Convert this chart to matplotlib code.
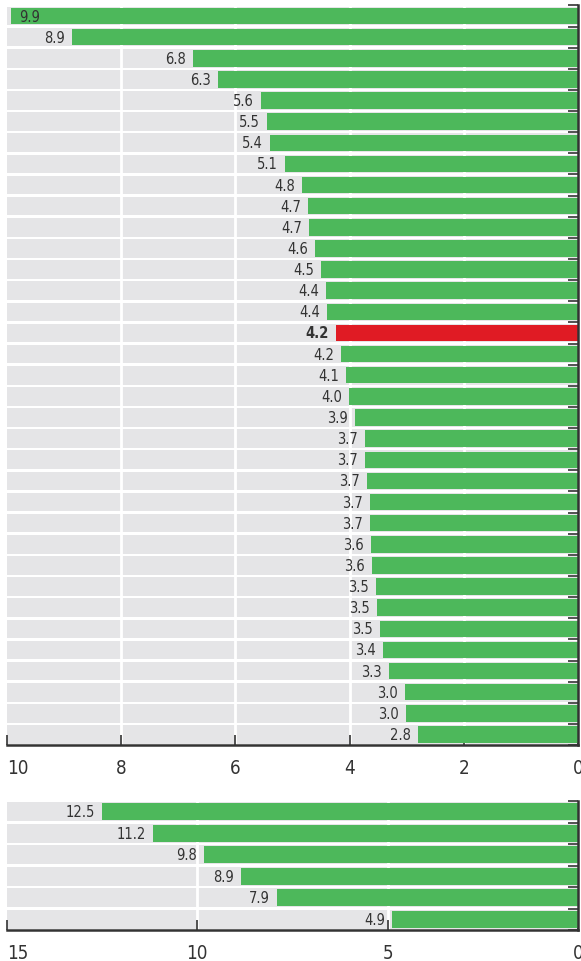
import matplotlib.pyplot as plt
from matplotlib import font_manager

# datos del panel superior (de arriba hacia abajo)
valores_arriba = [9.93, 8.86, 6.74, 6.30, 5.55, 5.45, 5.39, 5.13, 4.83, 4.73,
                  4.71, 4.61, 4.50, 4.41, 4.40, 4.24, 4.15, 4.06, 4.01, 3.91,
                  3.73, 3.73, 3.70, 3.64, 3.64, 3.63, 3.61, 3.54, 3.52, 3.47,
                  3.42, 3.31, 3.03, 3.01, 2.80]
etiquetas_arriba = ['9.9', '8.9', '6.8', '6.3', '5.6', '5.5', '5.4', '5.1', '4.8', '4.7',
                    '4.7', '4.6', '4.5', '4.4', '4.4', '4.2', '4.2', '4.1', '4.0', '3.9',
                    '3.7', '3.7', '3.7', '3.7', '3.7', '3.6', '3.6', '3.5', '3.5', '3.5',
                    '3.4', '3.3', '3.0', '3.0', '2.8']
destacado_arriba = 15
ticks_arriba = [10, 8, 6, 4, 2, 0]

# datos del panel inferior
valores_abajo = [12.5, 11.16, 9.82, 8.85, 7.91, 4.89]
etiquetas_abajo = ['12.5', '11.2', '9.8', '8.9', '7.9', '4.9']
ticks_abajo = [15, 10, 5, 0]

verde = '#4DB85B'
rojo = '#E01B24'
gris = '#E5E5E7'
oscuro = '#333333'

# fuente angosta si existe
nombres = {f.name for f in font_manager.fontManager.ttflist}
if 'Liberation Sans Narrow' in nombres:
    fuente = dict(family=['Liberation Sans Narrow', 'DejaVu Sans'])
else:
    fuente = dict(family=['DejaVu Sans'], stretch='condensed')


def dibujar(ax, valores, etiquetas, ticks, destacado=None):
    xmax = ticks[0]
    n = len(valores)
    filas = list(range(n))
    # bandas grises de fondo
    ax.barh(filas, [xmax] * n, height=0.88, color=gris, zorder=0)
    for t in ticks[1:-1]:
        ax.axvline(t, color='white', lw=2, zorder=1)
    colores = [rojo if i == destacado else verde for i in filas]
    ax.barh(filas, valores, height=0.78, color=colores, zorder=2)
    for i, (v, txt) in enumerate(zip(valores, etiquetas)):
        peso = 'bold' if i == destacado else 'normal'
        if v > xmax * 0.95:
            ax.annotate(txt, (v, i), xytext=(6, 0), textcoords='offset points',
                        ha='left', va='center', fontsize=10.5, color=oscuro,
                        fontweight=peso, zorder=3, **fuente)
        else:
            ax.annotate(txt, (v, i), xytext=(-5, 0), textcoords='offset points',
                        ha='right', va='center', fontsize=10.5, color=oscuro,
                        fontweight=peso, zorder=3, **fuente)
    ax.set_xlim(xmax, 0)
    ax.set_ylim(n - 0.5, -0.5)
    ax.set_xticks(ticks)
    ax.set_xticklabels([str(t) for t in ticks], fontsize=13.5, color=oscuro, **fuente)
    ax.get_xticklabels()[0].set_horizontalalignment('left')
    ax.tick_params(axis='x', direction='in', length=7, width=1.2, color=oscuro, pad=9)
    ax.yaxis.tick_right()
    ax.set_yticks([i - 0.5 for i in range(n + 1)])
    ax.set_yticklabels([])
    ax.tick_params(axis='y', direction='in', length=7, width=1.2, color=oscuro)
    for lado in ['left', 'top']:
        ax.spines[lado].set_visible(False)
    for lado in ['bottom', 'right']:
        ax.spines[lado].set_color(oscuro)
        ax.spines[lado].set_linewidth(1.8)
    ax.set_facecolor('white')


fig = plt.figure(figsize=(5.81, 9.62), dpi=100)
ax1 = fig.add_axes([7 / 581, 0.2245, 571 / 581, 0.7688])
ax2 = fig.add_axes([7 / 581, 0.0322, 571 / 581, 0.134])

dibujar(ax1, valores_arriba, etiquetas_arriba, ticks_arriba, destacado_arriba)
dibujar(ax2, valores_abajo, etiquetas_abajo, ticks_abajo)

fig.savefig('out.png', dpi=100)
